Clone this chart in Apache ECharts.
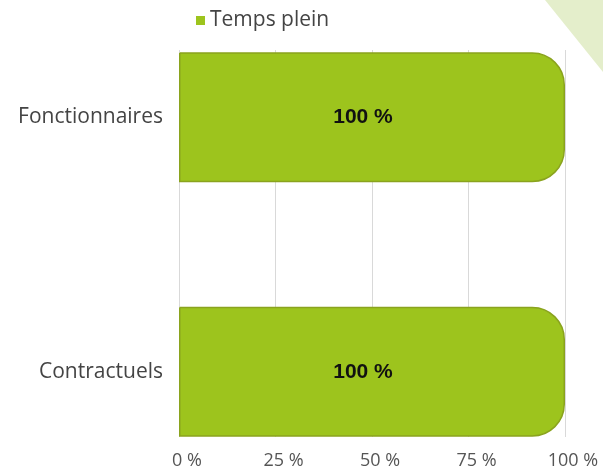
<!DOCTYPE html>
<html>
<head>
<meta charset="utf-8">
<script src="https://cdn.jsdelivr.net/npm/echarts@6/dist/echarts.min.js"></script>
<style>
  html, body { margin: 0; padding: 0; background: #fff; }
  #chart { width: 603px; height: 471px; }
</style>
</head>
<body>
<div id="chart"></div>
<script>
// données du graphique
var categories = ['Fonctionnaires', 'Contractuels'];
var tempsPlein = [100, 100];
var seriesName = 'Temps plein';
var xTicks = [0, 25, 50, 75, 100];

var myChart = echarts.init(document.getElementById('chart'));

myChart.setOption({
  animation: false,
  textStyle: { fontFamily: 'Open Sans, sans-serif' },
  legend: {
    top: 5,
    left: 191,
    itemWidth: 9,
    itemHeight: 9,
    itemGap: 6,
    icon: 'rect',
    itemStyle: { borderWidth: 0 },
    textStyle: { fontSize: 21, color: '#444', fontFamily: 'Open Sans, sans-serif' },
    data: [seriesName]
  },
  graphic: [{
    type: 'polygon',
    shape: { points: [[545, 0], [603, 0], [603, 72]] },
    style: { fill: '#e4eecb' },
    z: -1
  }],
  grid: [
    // grille des lignes verticales + étiquettes de l'axe x
    { left: 179, right: 38, top: 50, bottom: 34, outerBoundsMode: 'none' },
    // grille des barres
    { left: 179, right: 38, top: -10, bottom: -28, outerBoundsMode: 'none' }
  ],
  xAxis: [{
    gridIndex: 0,
    type: 'value',
    min: xTicks[0],
    max: xTicks[xTicks.length - 1],
    interval: 25,
    axisLine: { show: false },
    axisTick: { show: false },
    splitLine: { show: true, lineStyle: { color: '#d9d9d9', width: 1 } },
    axisLabel: {
      formatter: '{value} %',
      fontSize: 18,
      color: '#555',
      margin: 15,
      padding: [0, 0, 0, 16]
    }
  }, {
    gridIndex: 1,
    type: 'value',
    min: 0,
    max: 100,
    show: false
  }],
  yAxis: [{
    gridIndex: 0,
    type: 'category',
    data: categories,
    show: false
  }, {
    gridIndex: 1,
    type: 'category',
    inverse: true,
    data: categories,
    axisLine: { show: false },
    axisTick: { show: false },
    axisLabel: { fontSize: 21, color: '#444', margin: 16 }
  }],
  series: [{
    name: seriesName,
    type: 'bar',
    xAxisIndex: 1,
    yAxisIndex: 1,
    barWidth: 130,
    data: tempsPlein,
    itemStyle: {
      color: '#9dc41d',
      borderColor: '#8aa31e',
      borderWidth: 1.5,
      borderRadius: [0, 32, 32, 0]
    },
    label: {
      show: true,
      position: 'inside',
      offset: [-9, 0],
      formatter: '{c} %',
      fontFamily: 'Liberation Sans, Arial, sans-serif',
      fontWeight: 'bold',
      fontSize: 21,
      color: '#111'
    }
  }]
});
</script>
</body>
</html>
